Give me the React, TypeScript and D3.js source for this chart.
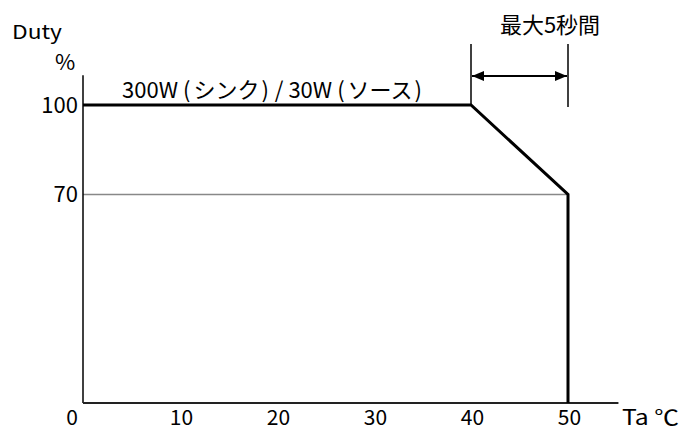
import React from "react";
import * as d3 from "d3";

const curveTemp = [0, 40, 50, 50];
const curveDuty = [100, 100, 70, 0];
const xTicks = [0, 10, 20, 30, 40, 50];
const yTicks = [100, 70];
const refDuty = 70;
const spanStart = 40;
const spanEnd = 50;
const curveLabelParts = ["300W", "(", "シンク", ")", "/ 30W", "(", "ソース", ")"];
const spanLabel = "最大5秒間";
const yTitle1 = "Duty";
const yTitle2 = "%";
const xTitle = "Ta ℃";

const W = 683;
const H = 432;
const FONT = "'Noto Sans CJK JP', 'Liberation Sans', sans-serif";
const partGaps = [0, 5, 3, 2, 6, 5, 3, 2];

export default function App() {
  const x = d3.scaleLinear().domain([0, 50]).range([83, 568]);
  const y = d3.scaleLinear().domain([0, 100]).range([403, 105]);
  const xMax = 55.2;
  const yMax = 110;

  const line = d3
    .line<number>()
    .x((_, i) => x(curveTemp[i]))
    .y((d) => y(d));

  const arrowY = 76;
  const dimTop = 44;

  return (
    <div style={{ position: "absolute", left: 0, top: 0 }}>
      <svg width={W} height={H} style={{ display: "block", background: "#fff" }}>
        <defs>
          <marker id="ah" viewBox="0 0 12 10" refX="12" refY="5" markerWidth="12" markerHeight="10" orient="auto-start-reverse" markerUnits="userSpaceOnUse">
            <path d="M0,0 L12,5 L0,10 z" fill="#000" />
          </marker>
        </defs>
        {/* reference line at 70 */}
        <line x1={x(0)} x2={x(spanEnd)} y1={y(refDuty)} y2={y(refDuty)} stroke="#888" strokeWidth={1.5} />
        {/* axes */}
        <line x1={x(0)} x2={x(0)} y1={y(yMax)} y2={y(0)} stroke="#000" strokeWidth={1.5} />
        <line x1={x(0)} x2={x(xMax)} y1={y(0)} y2={y(0)} stroke="#222" strokeWidth={1.8} />
        {/* curve */}
        <path d={line(curveDuty) || ""} fill="none" stroke="#000" strokeWidth={3} strokeLinejoin="miter" />
        {/* dimension lines */}
        <line x1={x(spanStart)} x2={x(spanStart)} y1={dimTop} y2={y(100)} stroke="#000" strokeWidth={1.5} />
        <line x1={x(spanEnd)} x2={x(spanEnd)} y1={dimTop} y2={y(100) + 2} stroke="#000" strokeWidth={1.5} />
        <line
          x1={x(spanStart) + 1}
          x2={x(spanEnd) - 1}
          y1={arrowY}
          y2={arrowY}
          stroke="#000"
          strokeWidth={1.8}
          markerStart="url(#ah)"
          markerEnd="url(#ah)"
        />
        <text x={550} y={33} textAnchor="middle" fontFamily={FONT} fontSize={22} fill="#000">
          {spanLabel}
        </text>
        {/* curve label */}
        <text x={122} y={98} fontFamily={FONT} fontSize={22} fill="#000">
          {curveLabelParts.map((p, i) => (
            <tspan key={i} dx={partGaps[i]}>
              {p}
            </tspan>
          ))}
        </text>
        {/* y ticks */}
        {yTicks.map((t) => (
          <text key={t} x={x(0) - 5} y={y(t) + 8} textAnchor="end" fontFamily={FONT} fontSize={22} fill="#000">
            {t}
          </text>
        ))}
        {/* x ticks */}
        {xTicks.map((t) => (
          <text key={t} x={t === 0 ? x(t) - 11 : x(t) + 1.5} y={425} textAnchor="middle" fontFamily={FONT} fontSize={21} fill="#000">
            {t}
          </text>
        ))}
        <text x={622} y={425} fontFamily={FONT} fontSize={21} fill="#000" textLength={57} lengthAdjust="spacingAndGlyphs">
          {xTitle}
        </text>
        <text x={12} y={39} fontFamily={FONT} fontSize={19} fill="#000" textLength={50} lengthAdjust="spacingAndGlyphs">
          {yTitle1}
        </text>
        <text x={55} y={70} fontFamily={FONT} fontSize={22} fill="#000">
          {yTitle2}
        </text>
      </svg>
    </div>
  );
}
